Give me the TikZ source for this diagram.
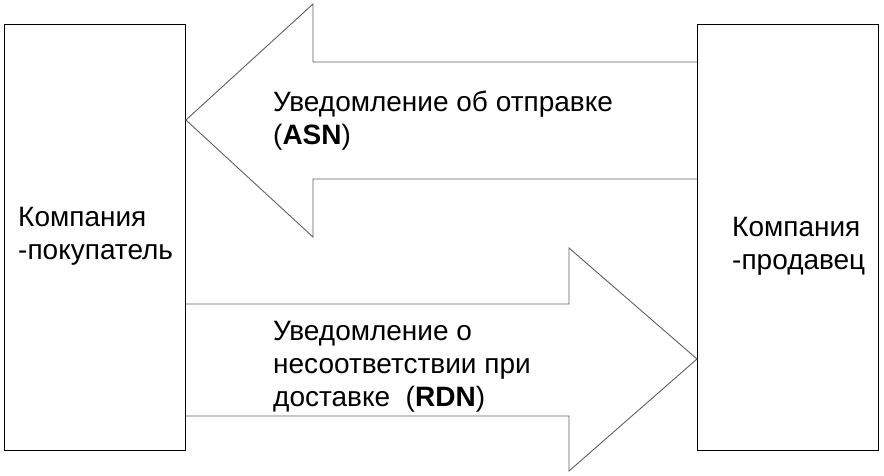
\documentclass[tikz,border=0pt]{standalone}
\usepackage{fontspec}
\setmainfont{Liberation Sans}
\usetikzlibrary{positioning,calc}
\definecolor{boxline}{RGB}{0,0,0}
\definecolor{arrowline}{RGB}{95,95,95}
\tikzset{
  party/.style={
    draw=boxline, line width=0.9pt, minimum width=181pt,
    minimum height=426pt, inner sep=0pt, anchor=north west
  },
  flow/.style={draw=arrowline, line width=0.9pt, line join=miter},
  txt/.style={
    font=\fontsize{28}{33}\selectfont, align=left,
    inner sep=0pt, anchor=north west
  },
}
\begin{document}
\begin{tikzpicture}[x=1pt,y=-1pt]
  \useasboundingbox (0,0) rectangle (884,475);

  % ===== the two companies =====
  \node[party] (buyer) at (4,24) {};
  \node[party] (seller) at (697,24) {};
  \node[txt] (buyerlbl) at (18,207) {Компания\\-покупатель};
  \node[txt] (sellerlbl) at (732,217) {Компания\\-продавец};

  % ===== ASN: seller -> buyer =====
  \coordinate (asntip) at (buyer.east |- 0,120);
  \draw[flow] (seller.west |- 0,62) -- (313,62) -- (313,4) -- (asntip)
    -- (313,237) -- (313,179) -- (seller.west |- 0,179);
  \node[txt] (asnlbl) at (273,91) {Уведомление об отправке\\(\textbf{ASN})};

  % ===== RDN: buyer -> seller =====
  \coordinate (rdntip) at (seller.west |- 0,359);
  \draw[flow] (buyer.east |- 0,304) -- (569,304) -- (569,248) -- (rdntip)
    -- (569,471) -- (569,416) -- (buyer.east |- 0,416);
  \node[txt] (rdnlbl) at (273,321)
    {Уведомление о\\несоответствии при\\доставке\ \ (\textbf{RDN})};

\end{tikzpicture}
\end{document}
